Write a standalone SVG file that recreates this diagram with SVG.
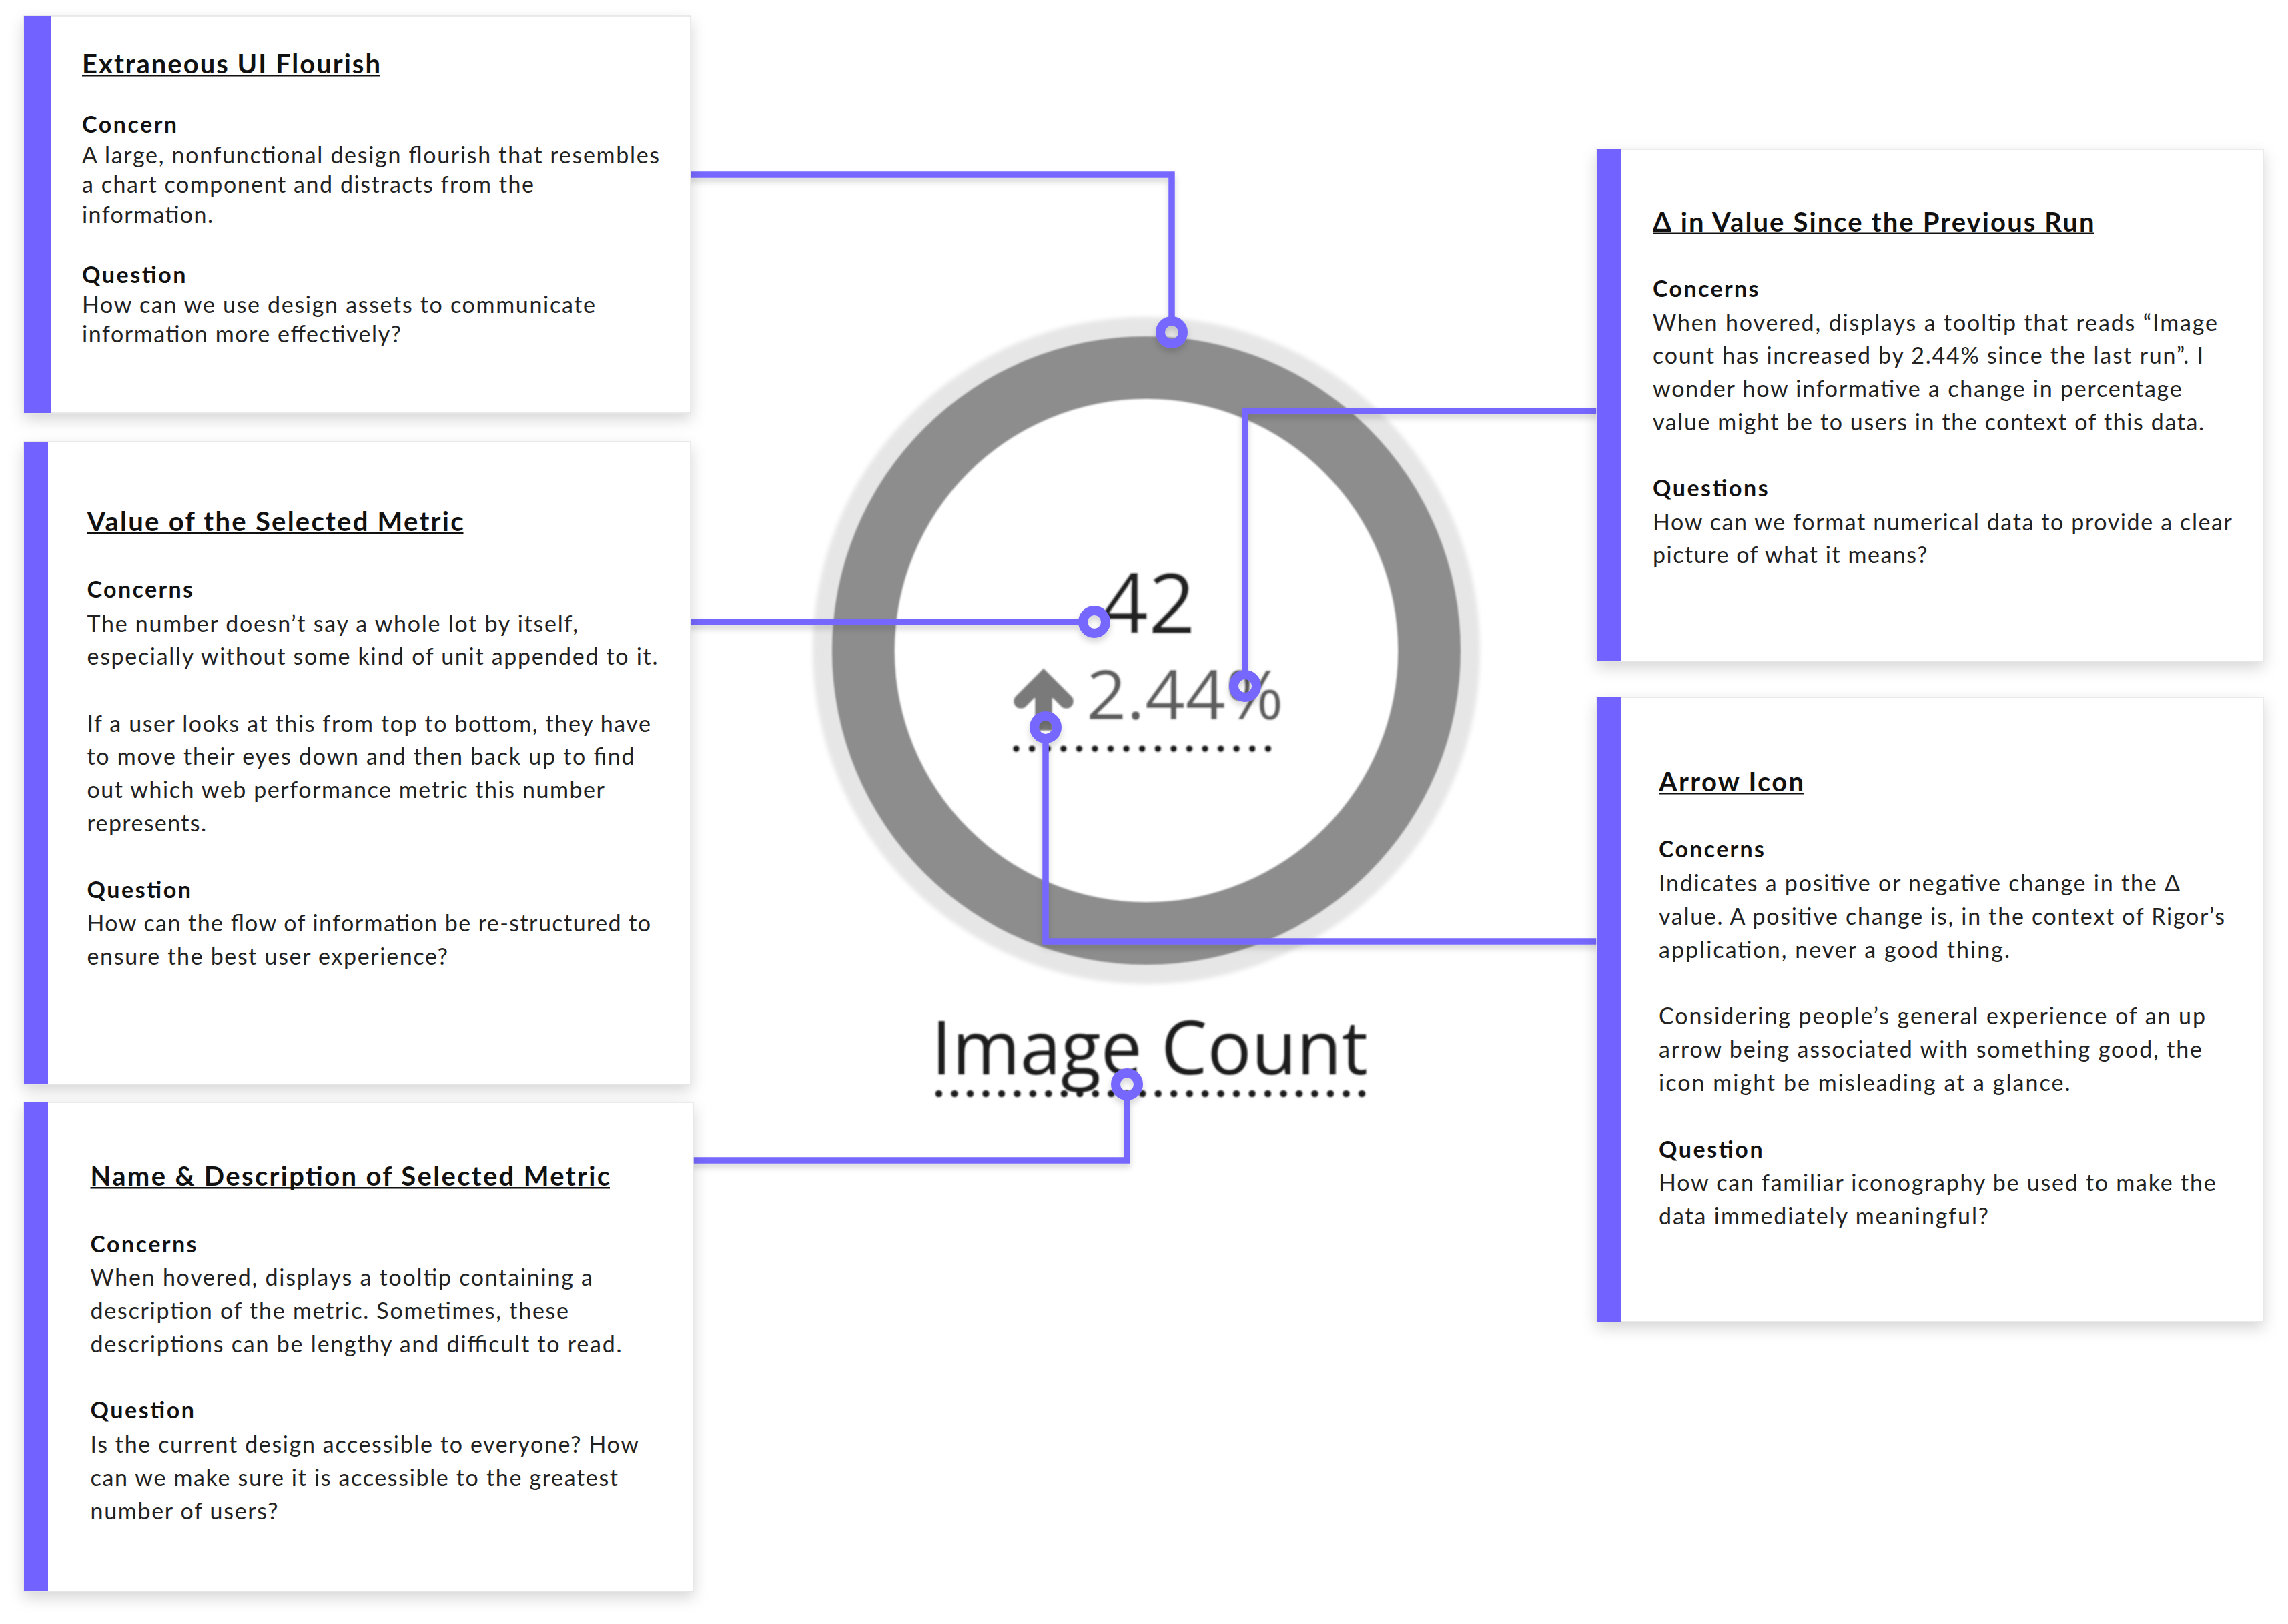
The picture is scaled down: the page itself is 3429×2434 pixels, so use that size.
<svg xmlns="http://www.w3.org/2000/svg" width="3429" height="2434" viewBox="0 0 3429 2434">
  <defs>
    <filter id="cardShadow" x="-10%" y="-10%" width="120%" height="125%">
      <feDropShadow dx="0" dy="9" stdDeviation="11" flood-color="#000" flood-opacity="0.16"/>
    </filter>
    <filter id="lineShadow" x="-10%" y="-10%" width="120%" height="130%">
      <feDropShadow dx="0" dy="6" stdDeviation="5" flood-color="#000" flood-opacity="0.16"/>
    </filter>
    <filter id="soft" x="-5%" y="-5%" width="110%" height="110%">
      <feGaussianBlur stdDeviation="1.3"/>
    </filter>
    <filter id="halo" x="-5%" y="-5%" width="110%" height="110%">
      <feGaussianBlur stdDeviation="3"/>
    </filter>
  </defs>
  <style>
    .card { fill: #ffffff; stroke: #e3e3e3; stroke-width: 1.5; }
    .bar { fill: #7262ff; }
    .txt { font-family: "Lato", "Noto Sans", "Liberation Sans", sans-serif; font-size: 34px; fill: #222222; }
    .head { font-weight: 700; fill: #111111; }
    .title { font-size: 40px; font-weight: 700; fill: #111111; }
    .uline { fill: #111111; }
    .wire { fill: none; stroke: #7668ff; stroke-width: 9.5; stroke-linejoin: miter; }
    .pin { fill: none; stroke: #7668ff; stroke-width: 14; }
    .num { font-family: "Open Sans", "Liberation Sans", sans-serif; }
    .dots { stroke-linecap: round; stroke-width: 10.5; fill: none; }
  </style>

  <rect width="3429" height="2434" fill="#ffffff"/>

  <!-- donut widget -->
  <g id="chart">
    <circle cx="1718" cy="975" r="500" fill="#e6e6e6" filter="url(#halo)"/>
    <g filter="url(#soft)">
      <circle cx="1718" cy="975" r="471" fill="#8d8d8d"/>
      <circle cx="1718" cy="975" r="377" fill="#ffffff"/>
      <text class="num" x="1650" y="949" font-size="124" fill="#222222">42</text>
      <path d="M1530,1051 L1564,1017 L1598,1051" fill="none" stroke="#7a7a7a" stroke-width="22" stroke-linecap="round" stroke-linejoin="miter"/>
      <line x1="1564" y1="1022" x2="1564" y2="1095" stroke="#7a7a7a" stroke-width="26"/>
      <text class="num" x="1628" y="1078" font-size="103" fill="#5e5e5e" textLength="296" lengthAdjust="spacingAndGlyphs">2.44%</text>
      <line class="dots" x1="1523" y1="1122" x2="1924" y2="1122" stroke="#1a1a1a" stroke-dasharray="0 23.59"/>
      <text class="num" x="1396" y="1610" font-size="111" fill="#1e1e1e" textLength="654" lengthAdjust="spacingAndGlyphs">Image Count</text>
      <line class="dots" x1="1407" y1="1639" x2="2041" y2="1639" stroke="#1a1a1a" stroke-dasharray="0 23.48"/>
    </g>
  </g>

  <!-- leader lines from each card to the part of the widget it describes -->
  <g id="connectors" filter="url(#lineShadow)">
    <path class="wire" d="M1030,262 H1756 V481"/>
    <circle class="pin" cx="1756" cy="498" r="17"/>
    <path class="wire" d="M1030,932 H1623"/>
    <circle class="pin" cx="1640" cy="932" r="17"/>
    <path class="wire" d="M1034,1739 H1689 V1642"/>
    <circle class="pin" cx="1689" cy="1625" r="17"/>
    <path class="wire" d="M2398,616 H1866 V1011"/>
    <circle class="pin" cx="1866" cy="1028" r="17"/>
    <path class="wire" d="M2398,1411 H1567 V1107"/>
    <circle class="pin" cx="1567" cy="1090" r="17"/>
  </g>

  <!-- card: Extraneous UI Flourish -->
  <g id="node-extraneous-ui-flourish">
    <rect class="card" x="36" y="24" width="999" height="595" filter="url(#cardShadow)"/>
    <rect class="bar" x="36" y="24" width="40" height="595"/>
    <text class="txt title" x="123" y="110" textLength="447">Extraneous UI Flourish</text>
    <rect class="uline" x="123" y="112" width="447" height="2.5"/>
    <text class="txt head" x="123" y="199" textLength="142">Concern</text>
    <text class="txt" x="123" y="244.5" textLength="865">A large, nonfunctional design flourish that resembles</text>
    <text class="txt" x="123" y="289" textLength="677">a chart component and distracts from the</text>
    <text class="txt" x="123" y="333.5" textLength="196">information.</text>
    <text class="txt head" x="123" y="424" textLength="155.5">Question</text>
    <text class="txt" x="123" y="468.5" textLength="769">How can we use design assets to communicate</text>
    <text class="txt" x="123" y="513" textLength="478">information more effectively?</text>
  </g>

  <!-- card: Value of the Selected Metric -->
  <g id="node-value-of-selected-metric">
    <rect class="card" x="36" y="662" width="999" height="963" filter="url(#cardShadow)"/>
    <rect class="bar" x="36" y="662" width="36" height="963"/>
    <text class="txt title" x="130.5" y="796" textLength="564">Value of the Selected Metric</text>
    <rect class="uline" x="130.5" y="798" width="564" height="2.5"/>
    <text class="txt head" x="130.5" y="896" textLength="158.5">Concerns</text>
    <text class="txt" x="130.5" y="946.5" textLength="735.5">The number doesn’t say a whole lot by itself,</text>
    <text class="txt" x="130.5" y="996" textLength="855">especially without some kind of unit appended to it.</text>
    <text class="txt" x="130.5" y="1096.5" textLength="844.5">If a user looks at this from top to bottom, they have</text>
    <text class="txt" x="130.5" y="1146" textLength="820">to move their eyes down and then back up to find</text>
    <text class="txt" x="130.5" y="1196" textLength="775.5">out which web performance metric this number</text>
    <text class="txt" x="130.5" y="1246" textLength="178.5">represents.</text>
    <text class="txt head" x="130.5" y="1346" textLength="155.5">Question</text>
    <text class="txt" x="130.5" y="1396" textLength="844.5">How can the flow of information be re-structured to</text>
    <text class="txt" x="130.5" y="1445.5" textLength="540.5">ensure the best user experience?</text>
  </g>

  <!-- card: Name & Description of Selected Metric -->
  <g id="node-name-and-description">
    <rect class="card" x="36" y="1652" width="1003" height="733" filter="url(#cardShadow)"/>
    <rect class="bar" x="36" y="1652" width="36" height="733"/>
    <text class="txt title" x="135.5" y="1777" textLength="778.5">Name &amp; Description of Selected Metric</text>
    <rect class="uline" x="135.5" y="1779" width="778.5" height="2.5"/>
    <text class="txt head" x="135.5" y="1877" textLength="159">Concerns</text>
    <text class="txt" x="135.5" y="1927" textLength="752.5">When hovered, displays a tooltip containing a</text>
    <text class="txt" x="135.5" y="1977" textLength="716.5">description of the metric. Sometimes, these</text>
    <text class="txt" x="135.5" y="2027" textLength="796">descriptions can be lengthy and difficult to read.</text>
    <text class="txt head" x="135.5" y="2126" textLength="155.5">Question</text>
    <text class="txt" x="135.5" y="2177" textLength="821.5">Is the current design accessible to everyone? How</text>
    <text class="txt" x="135.5" y="2226.5" textLength="790.5">can we make sure it is accessible to the greatest</text>
    <text class="txt" x="135.5" y="2277" textLength="281">number of users?</text>
  </g>

  <!-- card: change since the previous run -->
  <g id="node-delta-since-previous-run">
    <rect class="card" x="2393" y="224" width="999" height="767" filter="url(#cardShadow)"/>
    <rect class="bar" x="2393" y="224" width="36" height="767"/>
    <text class="txt title" x="2477" y="346.5" textLength="661.6">Δ in Value Since the Previous Run</text>
    <rect class="uline" x="2477" y="348.5" width="661.6" height="2.5"/>
    <text class="txt head" x="2477" y="445" textLength="158.5">Concerns</text>
    <text class="txt" x="2477" y="495.5" textLength="846">When hovered, displays a tooltip that reads “Image</text>
    <text class="txt" x="2477" y="545" textLength="825">count has increased by 2.44% since the last run”. I</text>
    <text class="txt" x="2477" y="595" textLength="792.7">wonder how informative a change in percentage</text>
    <text class="txt" x="2477" y="644.6" textLength="826">value might be to users in the context of this data.</text>
    <text class="txt head" x="2477" y="744" textLength="172.6">Questions</text>
    <text class="txt" x="2477" y="794.7" textLength="868">How can we format numerical data to provide a clear</text>
    <text class="txt" x="2477" y="844" textLength="411.4">picture of what it means?</text>
  </g>

  <!-- card: Arrow Icon -->
  <g id="node-arrow-icon">
    <rect class="card" x="2393" y="1045" width="999" height="936" filter="url(#cardShadow)"/>
    <rect class="bar" x="2393" y="1045" width="36" height="936"/>
    <text class="txt title" x="2486" y="1186" textLength="217">Arrow Icon</text>
    <rect class="uline" x="2486" y="1188" width="217" height="2.5"/>
    <text class="txt head" x="2486" y="1285" textLength="158">Concerns</text>
    <text class="txt" x="2486" y="1336" textLength="781">Indicates a positive or negative change in the Δ</text>
    <text class="txt" x="2486" y="1386" textLength="848">value. A positive change is, in the context of Rigor’s</text>
    <text class="txt" x="2486" y="1436" textLength="526">application, never a good thing.</text>
    <text class="txt" x="2486" y="1535" textLength="819">Considering people’s general experience of an up</text>
    <text class="txt" x="2486" y="1585" textLength="814">arrow being associated with something good, the</text>
    <text class="txt" x="2486" y="1635" textLength="616.5">icon might be misleading at a glance.</text>
    <text class="txt head" x="2486" y="1735" textLength="155.6">Question</text>
    <text class="txt" x="2486" y="1785" textLength="834.6">How can familiar iconography be used to make the</text>
    <text class="txt" x="2486" y="1835" textLength="494">data immediately meaningful?</text>
  </g>
</svg>
